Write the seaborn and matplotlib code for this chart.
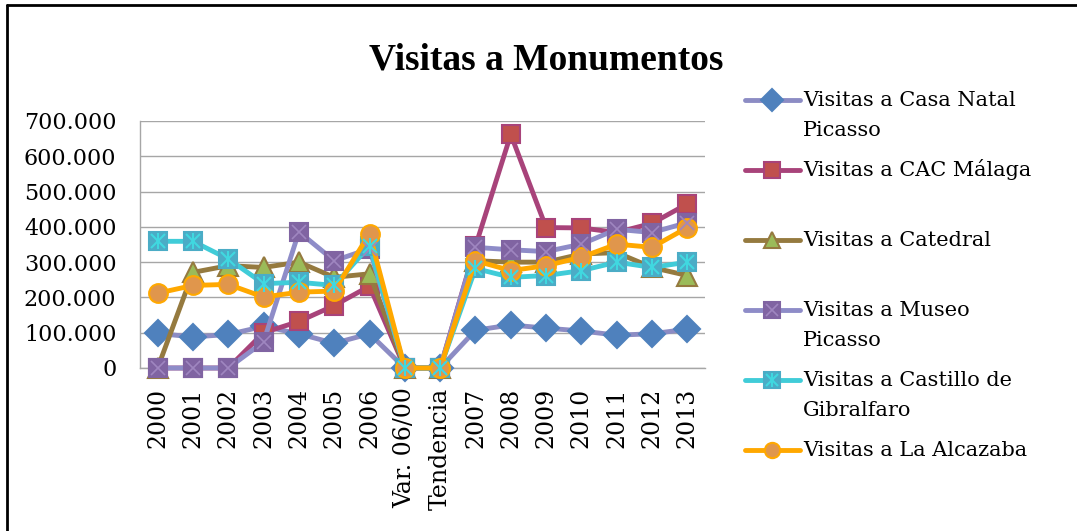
import numpy as np
import pandas as pd
import matplotlib.pyplot as plt
import seaborn as sns
from matplotlib.lines import Line2D
from matplotlib.ticker import FuncFormatter

sns.set_style("white")
plt.rcParams['font.family'] = ['DejaVu Serif']
plt.rcParams['text.color'] = 'black'
plt.rcParams['xtick.color'] = 'black'
plt.rcParams['ytick.color'] = 'black'

# Datos
categorias = ['2000', '2001', '2002', '2003', '2004', '2005', '2006', 'Var. 06/00',
              'Tendencia', '2007', '2008', '2009', '2010', '2011', '2012', '2013']
casa_natal = [98000, 88000, 95000, 118000, 97000, 70000, 97000, 0, 0,
              107000, 122000, 113000, 105000, 93000, 97000, 110000]
cac_malaga = [0, 0, 0, 100000, 132000, 177000, 232000, 0, 0,
              345000, 662000, 398000, 397000, 384000, 410000, 465000]
catedral = [0, 271000, 290000, 285000, 300000, 257000, 267000, 0, 0,
            304000, 300000, 300000, 323000, 327000, 285000, 262000]
museo_picasso = [0, 0, 0, 74000, 386000, 304000, 338000, 0, 0,
                 342000, 335000, 330000, 351000, 393000, 384000, 412000]
castillo = [359000, 359000, 309000, 239000, 243000, 234000, 346000, 0, 0,
            282000, 257000, 262000, 276000, 300000, 285000, 300000]
alcazaba = [212000, 234000, 237000, 201000, 215000, 218000, 381000, 0, 0,
            304000, 276000, 290000, 314000, 351000, 342000, 398000]

series = [
    ("Visitas a Casa Natal\nPicasso", casa_natal, '#8C8CC4', 'D', '#4F81BD', '#4F81BD', None),
    ("Visitas a CAC Málaga", cac_malaga, '#A8437A', 's', '#C0504D', '#A8437A', None),
    ("Visitas a Catedral", catedral, '#957A3F', '^', '#9BBB59', '#957A3F', None),
    ("Visitas a Museo\nPicasso", museo_picasso, '#8E8CC8', 's', '#8064A2', '#8064A2', 'x'),
    ("Visitas a Castillo de\nGibralfaro", castillo, '#40CCD8', 's', '#4BACC6', '#4BACC6', '*'),
    ("Visitas a La Alcazaba", alcazaba, '#FFA800', 'o', '#E0964C', '#FFA800', None),
]

W, H = 1077, 531
fig = plt.figure(figsize=(W / 100, H / 100), dpi=100)
ax = fig.add_axes([140 / W, 1 - 368 / H, 565 / W, (368 - 121) / H])

x = np.arange(len(categorias))
for nombre, vals, lc, mk, mfc, mec, extra in series:
    df = pd.DataFrame({'x': x, 'y': vals})
    sns.lineplot(data=df, x='x', y='y', ax=ax, color=lc, lw=3.5, marker=mk,
                 markersize=13.5 if mk != '^' else 14, markerfacecolor=mfc,
                 markeredgecolor=mec, markeredgewidth=1.5, clip_on=False, zorder=3)
    if extra == 'x':
        ax.plot(x, vals, ls='none', marker='x', ms=10, mew=1.2, color='#9F86C0',
                clip_on=False, zorder=4)
    elif extra == '*':
        ax.plot(x, vals, ls='none', marker='x', ms=10, mew=1.5, color='#40D8E0',
                clip_on=False, zorder=4)
        ax.plot(x, vals, ls='none', marker='|', ms=12, mew=1.5, color='#40D8E0',
                clip_on=False, zorder=4)

ax.set_xlim(-0.5, len(categorias) - 0.5)
ax.set_ylim(0, 700000)
ax.set_yticks(np.arange(0, 700001, 100000))
ax.yaxis.set_major_formatter(FuncFormatter(lambda v, p: f"{int(v):,}".replace(',', '.')))
ax.set_xticks(x)
ax.set_xticklabels(categorias, rotation=90)
ax.set_xticks(np.arange(-0.5, len(categorias), 1), minor=True)
ax.tick_params(axis='x', which='major', length=0, pad=14, labelsize=17)
ax.tick_params(axis='x', which='minor', length=6, color='#A6A6A6', direction='out')
ax.tick_params(axis='y', length=6, color='#A6A6A6', direction='out', labelsize=16, pad=11)
ax.grid(axis='y', color='#A6A6A6', lw=1)
ax.set_axisbelow(True)
for s in ['top', 'right']:
    ax.spines[s].set_visible(False)
for s in ['left', 'bottom']:
    ax.spines[s].set_color('#A6A6A6')
    ax.spines[s].set_linewidth(1)
ax.set_xlabel('')
ax.set_ylabel('')

fig.text(546 / W, 1 - 60 / H, 'Visitas a Monumentos', ha='center', va='center',
         fontsize=27, fontweight='bold', family='Liberation Serif')

# Leyenda
for i, (nombre, vals, lc, mk, mfc, mec, extra) in enumerate(series):
    yy = 1 - (100 + 70 * i) / H
    fig.add_artist(Line2D([745 / W, 800 / W], [yy, yy], color=lc, lw=3.5,
                          transform=fig.transFigure))
    fig.add_artist(Line2D([772 / W], [yy], ls='none', marker=mk, ms=11 if mk != '^' else 12,
                          mfc=mfc, mec=mec, mew=1.5, transform=fig.transFigure))
    if extra == 'x':
        fig.add_artist(Line2D([772 / W], [yy], ls='none', marker='x', ms=8, mew=1.2,
                              color='#9F86C0', transform=fig.transFigure))
    elif extra == '*':
        fig.add_artist(Line2D([772 / W], [yy], ls='none', marker='x', ms=8, mew=1.5,
                              color='#40D8E0', transform=fig.transFigure))
        fig.add_artist(Line2D([772 / W], [yy], ls='none', marker='|', ms=10, mew=1.5,
                              color='#40D8E0', transform=fig.transFigure))
    for j, linea in enumerate(nombre.split('\n')):
        fig.text(803 / W, yy - 31 * j / H, linea, ha='left', va='center', fontsize=15)

# Marco
fig.add_artist(Line2D([7 / W, 1], [1 - 5 / H, 1 - 5 / H], color='black', lw=2,
                      transform=fig.transFigure))
fig.add_artist(Line2D([7 / W, 7 / W], [0, 1 - 5 / H], color='black', lw=2,
                      transform=fig.transFigure))

fig.savefig('out.png', dpi=100)
